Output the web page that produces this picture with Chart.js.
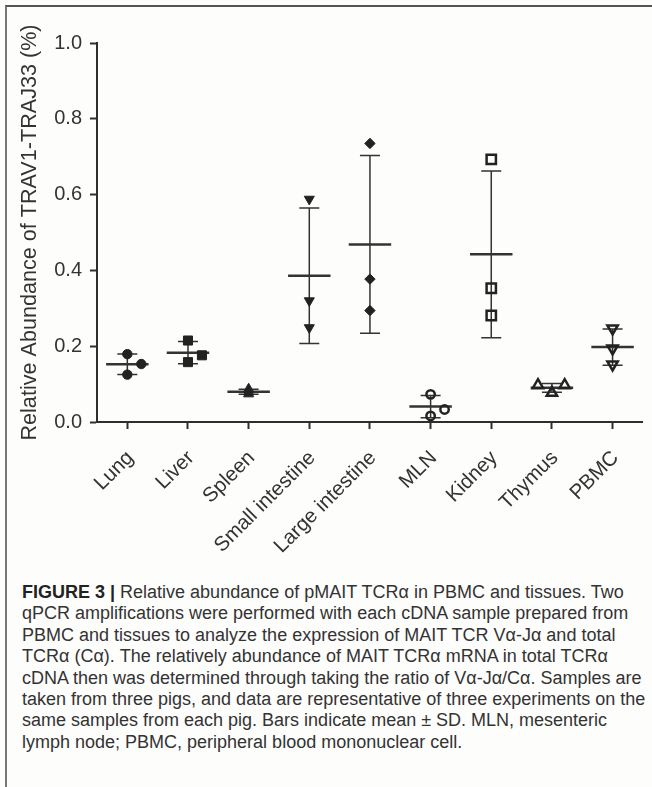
<!DOCTYPE html>
<html>
<head>
<meta charset="utf-8">
<script src="https://cdn.jsdelivr.net/npm/chart.js@4.4.1/dist/chart.umd.min.js"></script>
<style>
  html, body { margin: 0; padding: 0; background: #fdfdfc; }
  #page { position: relative; width: 652px; height: 787px; overflow: hidden; background: #fdfdfc; }
  #frame { position: absolute; left: 5px; top: 5px; right: -4px; bottom: -4px; border-top: 2px solid #555; border-left: 2px solid #777; }
  #data-chart { position: absolute; left: 0; top: 0; }
  #caption {
    position: absolute; left: 22px; top: 582px;
    font: 18px "Liberation Sans", Arial, sans-serif; line-height: 21.4px;
    color: #333; white-space: nowrap;
  }
  #caption b { color: #222; }
</style>
</head>
<body>
<div id="page">
  <div id="frame"></div>
  <canvas id="data-chart" width="652" height="560"></canvas>
  <div id="caption">
    <b>FIGURE 3 |</b> Relative abundance of pMAIT TCRα in PBMC and tissues. Two<br>
    qPCR amplifications were performed with each cDNA sample prepared from<br>
    PBMC and tissues to analyze the expression of MAIT TCR Vα-Jα and total<br>
    TCRα (Cα). The relatively abundance of MAIT TCRα mRNA in total TCRα<br>
    cDNA then was determined through taking the ratio of Vα-Jα/Cα. Samples are<br>
    taken from three pigs, and data are representative of three experiments on the<br>
    same samples from each pig. Bars indicate mean ± SD. MLN, mesenteric<br>
    lymph node; PBMC, peripheral blood mononuclear cell.
  </div>
</div>
<script>
const categories = ["Lung", "Liver", "Spleen", "Small intestine", "Large intestine", "MLN", "Kidney", "Thymus", "PBMC"];

// three pigs per tissue
const lung = [0.179, 0.153, 0.125];
const liver = [0.215, 0.176, 0.158];
const spleen = [0.087, 0.074, 0.079];
const smallIntestine = [0.588, 0.320, 0.249];
const largeIntestine = [0.735, 0.377, 0.294];
const mln = [0.073, 0.033, 0.016];
const kidney = [0.693, 0.353, 0.281];
const thymus = [0.097, 0.077, 0.097];
const pbmc = [0.247, 0.194, 0.152];

const yTicks = [0, 0.2, 0.4, 0.6, 0.8, 1.0];

const tissueValues = [lung, liver, spleen, smallIntestine, largeIntestine, mln, kidney, thymus, pbmc];

// horizontal spread of overlapping points (in category widths)
const xSpread = [
    [0, 0.23, 0], [0, 0.23, 0], [0, 0, 0], [0, 0, 0], [0, 0, 0],
    [0, 0.23, 0], [0, 0, 0], [-0.23, 0, 0.21], [0, 0, 0]
];

const ink = "#222";
const axisColor = "#2e2e2e";
const textColor = "#333";
const fontFamily = "'Liberation Sans', Arial, sans-serif";

const markers = [
    { style: "circle", radius: 4.7, rotation: 0, filled: true },
    { style: "rect", radius: 6.4, rotation: 0, filled: true },
    { style: "triangle", radius: 5.8, rotation: 0, filled: true },
    { style: "triangle", radius: 5.8, rotation: 180, filled: true },
    { style: "rectRot", radius: 5.2, rotation: 0, filled: true },
    { style: "circle", radius: 4.2, rotation: 0, filled: false },
    { style: "rect", radius: 6.6, rotation: 0, filled: false },
    { style: "triangle", radius: 6, rotation: 0, filled: false },
    { style: "triangle", radius: 6, rotation: 180, filled: false }
];

function mean(vals) {
    return vals.reduce((a, b) => a + b, 0) / vals.length;
}
function sd(vals) {
    const m = mean(vals);
    return Math.sqrt(vals.reduce((a, v) => a + (v - m) * (v - m), 0) / (vals.length - 1));
}

// mean line + SD whiskers, drawn under the points
const meanSdBars = {
    id: "meanSdBars",
    beforeDatasetsDraw(chart) {
        const { ctx, scales: { x, y } } = chart;
        ctx.save();
        ctx.strokeStyle = "#333";
        tissueValues.forEach((vals, i) => {
            const m = mean(vals);
            const s = sd(vals);
            const cx = x.getPixelForValue(i);
            const meanHalf = x.getPixelForValue(i + 0.35) - cx;
            const capHalf = x.getPixelForValue(i + 0.165) - cx;
            const yTop = y.getPixelForValue(m + s);
            const yBottom = y.getPixelForValue(m - s);
            const yMean = y.getPixelForValue(m);

            ctx.lineWidth = 1.5;
            ctx.beginPath();
            ctx.moveTo(cx, yTop);
            ctx.lineTo(cx, yBottom);
            ctx.moveTo(cx - capHalf, yTop);
            ctx.lineTo(cx + capHalf, yTop);
            ctx.moveTo(cx - capHalf, yBottom);
            ctx.lineTo(cx + capHalf, yBottom);
            ctx.stroke();

            ctx.lineWidth = 2.5;
            ctx.beginPath();
            ctx.moveTo(cx - meanHalf, yMean);
            ctx.lineTo(cx + meanHalf, yMean);
            ctx.stroke();
        });
        ctx.restore();
    }
};

const datasets = tissueValues.map((vals, i) => ({
    label: categories[i],
    data: vals.map((v, j) => ({ x: i + xSpread[i][j], y: v })),
    pointStyle: markers[i].style,
    pointRadius: markers[i].radius,
    pointHoverRadius: markers[i].radius,
    pointRotation: markers[i].rotation,
    pointBackgroundColor: markers[i].filled ? ink : "rgba(0,0,0,0)",
    pointBorderColor: ink,
    pointBorderWidth: markers[i].filled ? 1 : 2.5,
    showLine: false
}));

const config = {
    type: "scatter",
    data: { datasets: datasets },
    plugins: [meanSdBars],
    options: {
        responsive: false,
        animation: false,
        devicePixelRatio: 1,
        layout: {
            padding: { left: 8, top: 43, right: 6, bottom: 0 }
        },
        plugins: {
            legend: { display: false },
            tooltip: { enabled: false }
        },
        scales: {
            x: {
                type: "linear",
                min: -0.5,
                max: 8.5,
                afterBuildTicks: (axis) => {
                    axis.ticks = categories.map((c, i) => ({ value: i }));
                },
                afterFit: (axis) => {
                    axis.height = 560 - 422;
                },
                grid: {
                    drawOnChartArea: false,
                    drawTicks: true,
                    tickLength: 7,
                    tickWidth: 2,
                    tickColor: axisColor
                },
                border: { color: axisColor, width: 2 },
                ticks: {
                    autoSkip: false,
                    minRotation: 45,
                    maxRotation: 45,
                    padding: 17,
                    labelOffset: 3,
                    color: textColor,
                    font: { family: fontFamily, size: 20.5 },
                    callback: (value) => categories[value]
                }
            },
            y: {
                min: 0,
                max: 1.0,
                afterBuildTicks: (axis) => {
                    axis.ticks = yTicks.map((v) => ({ value: v }));
                },
                afterFit: (axis) => {
                    axis.width = 97 - 8;
                },
                title: {
                    display: true,
                    text: "Relative Abundance of TRAV1-TRAJ33 (%)",
                    color: textColor,
                    padding: { top: 9, bottom: 0 },
                    font: { family: fontFamily, size: 21.6 }
                },
                grid: {
                    drawOnChartArea: false,
                    drawTicks: true,
                    tickLength: 7,
                    tickWidth: 2,
                    tickColor: axisColor
                },
                border: { color: axisColor, width: 2 },
                ticks: {
                    padding: 8,
                    color: textColor,
                    font: { family: fontFamily, size: 20 },
                    callback: (value) => value.toFixed(1)
                }
            }
        }
    }
};

const ctx = document.getElementById("data-chart").getContext("2d");
const tissue_chart = new Chart(ctx, config);
</script>
</body>
</html>
